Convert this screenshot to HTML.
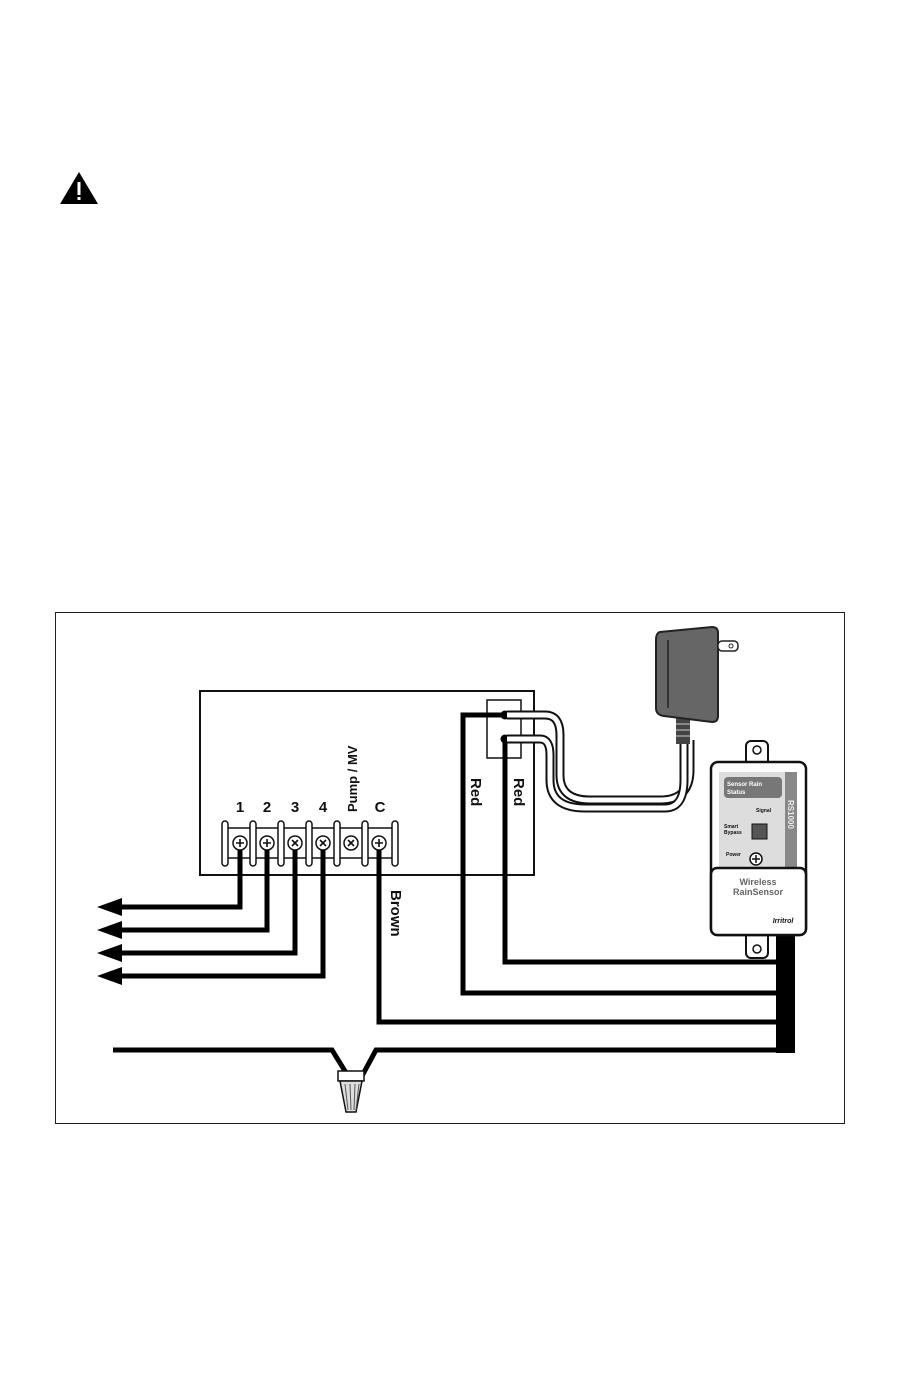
<!DOCTYPE html>
<html><head><style>
html,body{margin:0;padding:0;background:#fff;}
svg{display:block;}
text{font-family:"Liberation Sans",sans-serif;font-weight:bold;fill:#111;}
</style></head><body>
<svg width="900" height="1389" viewBox="0 0 900 1389">
<!-- warning -->
<polygon points="79,172 60,204 98,204" fill="#000"/>
<rect x="77.5" y="182" width="3" height="13" fill="#fff"/>
<rect x="77.5" y="197" width="3" height="3" fill="#fff"/>
<!-- frame -->
<rect x="55.5" y="612.5" width="789" height="511" fill="none" stroke="#222" stroke-width="1"/>
<!-- controller -->
<rect x="200" y="691" width="334" height="184" fill="none" stroke="#111" stroke-width="2"/>
<rect x="487" y="700" width="34" height="58" fill="#fff" stroke="#111" stroke-width="1.5"/>
<!-- labels -->
<text x="240" y="812" font-size="15" text-anchor="middle">1</text>
<text x="267" y="812" font-size="15" text-anchor="middle">2</text>
<text x="295" y="812" font-size="15" text-anchor="middle">3</text>
<text x="323" y="812" font-size="15" text-anchor="middle">4</text>
<text x="380" y="812" font-size="15" text-anchor="middle">C</text>
<text transform="translate(357,812) rotate(-90)" font-size="13">Pump / MV</text>
<text transform="translate(471,778) rotate(90)" font-size="15">Red</text>
<text transform="translate(514,778) rotate(90)" font-size="15">Red</text>
<text transform="translate(391,890) rotate(90)" font-size="15">Brown</text>
<!-- terminal strip -->
<rect x="226" y="828" width="170" height="30" fill="#fff" stroke="#111" stroke-width="1.5"/>
<g fill="#fff" stroke="#111" stroke-width="1.5">
<rect x="222" y="821" width="6" height="45" rx="3"/>
<rect x="250" y="821" width="6" height="45" rx="3"/>
<rect x="278" y="821" width="6" height="45" rx="3"/>
<rect x="306" y="821" width="6" height="45" rx="3"/>
<rect x="334" y="821" width="6" height="45" rx="3"/>
<rect x="362" y="821" width="6" height="45" rx="3"/>
<rect x="392" y="821" width="6" height="45" rx="3"/>
</g>
<g fill="#fff" stroke="#111" stroke-width="1.5">
<circle cx="240" cy="843" r="7"/><circle cx="267" cy="843" r="7"/><circle cx="295" cy="843" r="7"/>
<circle cx="323" cy="843" r="7"/><circle cx="351" cy="843" r="7"/><circle cx="379" cy="843" r="7"/>
</g>
<g stroke="#111" stroke-width="1.6">
<path d="M236,843h8M240,839v8M263,843h8M267,839v8M379-0"/>
<path d="M375,843h8M379,839v8"/>
<path d="M292,840l6,6M298,840l-6,6M320,840l6,6M326,840l-6,6M348,840l6,6M354,840l-6,6"/>
</g>
<!-- wires -->
<g fill="none" stroke="#000" stroke-width="5" stroke-linejoin="miter">
<path d="M240,850V907H118"/>
<path d="M267,850V930H118"/>
<path d="M295,850V953H118"/>
<path d="M323,850V976H118"/>
<path d="M379,850V1022H780"/>
<path d="M505,715H463V993H780"/>
<path d="M505,739V962H780"/>
<path d="M113,1050H332L348,1076M362,1076L376,1050H790"/>
</g>
<g fill="#000">
<polygon points="97,907 122,898 122,916"/>
<polygon points="97,930 122,921 122,939"/>
<polygon points="97,953 122,944 122,962"/>
<polygon points="97,976 122,967 122,985"/>
</g>
<circle cx="505" cy="715" r="4.5" fill="#000"/>
<circle cx="505" cy="739" r="4.5" fill="#000"/>
<!-- wire nut -->
<rect x="338" y="1071" width="26" height="10" fill="#fff" stroke="#111" stroke-width="1.5"/>
<polygon points="340,1081 362,1081 356,1112 346,1112" fill="#ddd" stroke="#111" stroke-width="1.5"/>
<path d="M345,1084l3,26M350,1084l1,26M355,1084l-1,26M359,1084l-3,26" stroke="#555" stroke-width="1"/>
<!-- black bundle -->
<rect x="776" y="933" width="19" height="120" fill="#000"/>
<!-- adapter cord (double white) -->
<g fill="none">
<path d="M507,715H545Q560,715 560,735V775Q560,800 590,800H660Q690,800 690,770V740" stroke="#111" stroke-width="9"/>
<path d="M507,715H545Q560,715 560,735V775Q560,800 590,800H660Q690,800 690,770V740" stroke="#fff" stroke-width="5"/>
<path d="M507,739H540Q550,739 550,755V780Q550,808 585,808H665Q684,808 684,780V740" stroke="#111" stroke-width="9"/>
<path d="M507,739H540Q550,739 550,755V780Q550,808 585,808H665Q684,808 684,780V740" stroke="#fff" stroke-width="5"/>
</g>
<!-- adapter -->
<rect x="676" y="718" width="14" height="26" fill="#444"/>
<g stroke="#ccc" stroke-width="1"><path d="M676,724h14M676,730h14M676,736h14"/></g>
<path d="M660,632L712,627Q718,627 718,633V716Q718,722 712,722L664,716Q656,715 656,708V640Q656,633 660,632Z" fill="#666" stroke="#222" stroke-width="2"/>
<path d="M668,640V708" stroke="#222" stroke-width="1.5"/>
<rect x="718" y="641" width="20" height="10" rx="4" fill="#fff" stroke="#222" stroke-width="1.5"/>
<circle cx="731" cy="646" r="2" fill="none" stroke="#222"/>
<!-- sensor ears -->
<rect x="746" y="741" width="22" height="28" rx="5" fill="#fff" stroke="#111" stroke-width="2"/>
<circle cx="757" cy="750" r="4" fill="none" stroke="#111" stroke-width="1.5"/>
<rect x="746" y="928" width="22" height="30" rx="5" fill="#fff" stroke="#111" stroke-width="2"/>
<circle cx="757" cy="949" r="4" fill="none" stroke="#111" stroke-width="1.5"/>
<!-- sensor body -->
<rect x="711" y="762" width="95" height="173" rx="7" fill="#fff" stroke="#111" stroke-width="2.5"/>
<rect x="719" y="772" width="78" height="98" fill="#ddd"/>
<rect x="785" y="772" width="12" height="98" fill="#888"/>
<text transform="translate(788,800) rotate(90)" font-size="8" style="fill:#eee">RS1000</text>
<rect x="724" y="777" width="58" height="21" rx="4" fill="#777"/>
<text x="727" y="786" font-size="6" style="fill:#fff">Sensor  Rain</text>
<text x="727" y="794" font-size="6" style="fill:#fff">Status</text>
<text x="756" y="812" font-size="5">Signal</text>
<text x="724" y="828" font-size="5">Smart</text>
<text x="724" y="834" font-size="5">Bypass</text>
<rect x="752" y="824" width="15" height="15" fill="#555" stroke="#111"/>
<text x="726" y="856" font-size="5">Power</text>
<circle cx="756" cy="859" r="6" fill="#fff" stroke="#111" stroke-width="1.5"/>
<path d="M752,859h8M756,855v8" stroke="#111" stroke-width="1.5"/>
<rect x="711" y="868" width="95" height="67" rx="6" fill="#fff" stroke="#111" stroke-width="2.5"/>
<text x="758" y="885" font-size="9" text-anchor="middle" style="fill:#666">Wireless</text>
<text x="758" y="895" font-size="9" text-anchor="middle" style="fill:#666">RainSensor</text>
<text x="783" y="923" font-size="7" text-anchor="middle" font-style="italic">Irritrol</text>
</svg>
</body></html>
